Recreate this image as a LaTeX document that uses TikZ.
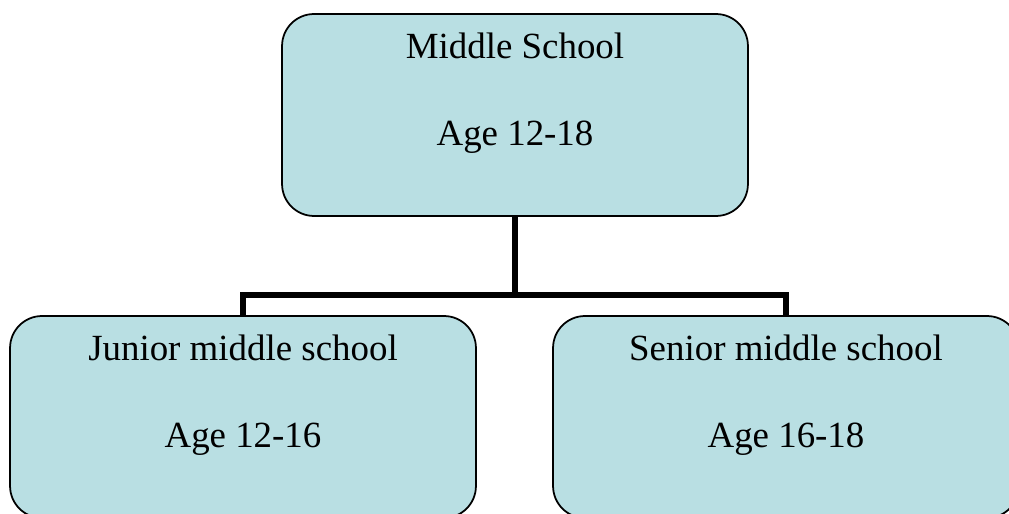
\documentclass[tikz,border=0pt]{standalone}
\usepackage{fontspec}
\setmainfont{Liberation Serif}
\usepackage{tikz}
\usetikzlibrary{positioning}
\definecolor{boxblue}{RGB}{185,223,227}
\tikzstyle{link} = [line width=2.9pt, line join=miter]

\begin{document}
\begin{tikzpicture}
        [
            x=0.02cm, y=0.02cm,
            box/.style={rectangle, rounded corners=0.64cm, draw=black, line width=1pt, fill=boxblue, minimum width=9.32cm, minimum height=4.04cm},
            txt/.style={align=center, inner sep=0pt, font=\fontsize{21pt}{24.75pt}\selectfont},
        ]

    \useasboundingbox (0,0) rectangle (1009,514);

    \node[box] (ms) at (515,399){};
    \node[box] (jr) at (243,97){};
    \node[box] (sr) at (786,97){};

    \node[txt, below=11.3pt of ms.north] (mst){Middle School\\[24.75pt]Age 12-18};
    \node[txt, below=11.3pt of jr.north] (jrt){Junior middle school\\[24.75pt]Age 12-16};
    \node[txt, below=11.3pt of sr.north] (srt){Senior middle school\\[24.75pt]Age 16-18};

    \coordinate (fork) at (515,219);
    \draw[link] (ms.south) -- (fork);
    \draw[link] (jr.north) |- (fork) -| (sr.north);
    \end{tikzpicture}
\end{document}
